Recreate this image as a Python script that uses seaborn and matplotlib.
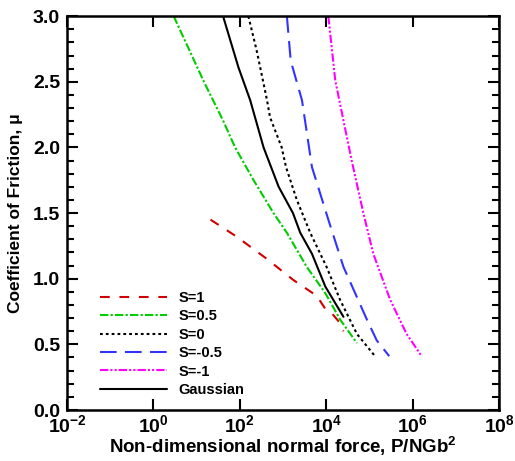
import numpy as np
import pandas as pd
import seaborn as sns
import matplotlib.pyplot as plt
from matplotlib.ticker import FixedLocator, MultipleLocator, FuncFormatter

# data (x = P/NGb^2, y = friction coefficient)
s1_x = [21, 85, 427, 1740, 6030, 9550, 13200, 20000, 25100]
s1_y = [1.45, 1.32, 1.15, 0.99, 0.87, 0.77, 0.74, 0.67, 0.60]

s05_x = [2.95, 14.8, 41.7, 78, 209, 603, 1230, 3550, 9550, 20900, 51300]
s05_y = [3.0, 2.5, 2.2, 2.0, 1.75, 1.5, 1.35, 1.09, 0.89, 0.69, 0.51]

s0_x = [158, 245, 427, 501, 933, 1175, 2090, 4270, 10200, 20900, 51300, 135000]
s0_y = [3.0, 2.74, 2.36, 2.23, 2.0, 1.85, 1.6, 1.35, 1.09, 0.84, 0.58, 0.41]

sm05_x = [1230, 1510, 2750, 4680, 11200, 25100, 87100, 148000, 288000]
sm05_y = [3.0, 2.66, 2.36, 1.85, 1.45, 1.09, 0.69, 0.53, 0.41]

sm1_x = [11200, 16200, 38900, 72400, 123000, 302000, 724000, 1620000]
sm1_y = [3.0, 2.51, 1.9, 1.5, 1.19, 0.84, 0.58, 0.41]

gauss_x = [41, 93, 174, 355, 794, 1700, 2510, 4680, 9550, 25100]
gauss_y = [3.0, 2.61, 2.36, 2.0, 1.7, 1.5, 1.35, 1.19, 0.94, 0.71]

labels = ['S=1', 'S=0.5', 'S=0', 'S=-0.5', 'S=-1', 'Gaussian']
xs = [s1_x, s05_x, s0_x, sm05_x, sm1_x, gauss_x]
ys = [s1_y, s05_y, s0_y, sm05_y, sm1_y, gauss_y]

colors = ['#d00000', '#00cc00', '#000000', '#3333ff', '#ff00ff', '#000000']
styles = [(0, (7, 7)),
          (0, (6, 1.6, 1.6, 1.6)),
          (0, (2, 2.2)),
          (0, (12, 6)),
          (0, (6, 1.5, 1.5, 1.5, 1.5, 1.5)),
          '-']

sns.set_style('ticks')
plt.rcParams['font.family'] = ['Liberation Sans', 'DejaVu Sans']
plt.rcParams['font.weight'] = 'bold'
plt.rcParams['mathtext.fontset'] = 'custom'
plt.rcParams['mathtext.bf'] = 'Liberation Sans:bold'
plt.rcParams['mathtext.rm'] = 'Liberation Sans:bold'
plt.rcParams['lines.scale_dashes'] = False
for k in ['text.color', 'axes.labelcolor', 'axes.edgecolor',
          'xtick.color', 'ytick.color']:
    plt.rcParams[k] = 'black'

fig = plt.figure(figsize=(5.15, 4.61), dpi=100)
ax = fig.add_axes([0.130, 0.1106, 0.839, 0.8544])

for lab, x, y, c, ls in zip(labels, xs, ys, colors, styles):
    df = pd.DataFrame({'x': x, 'y': y})
    sns.lineplot(data=df, x='x', y='y', ax=ax, color=c, linestyle=ls,
                 linewidth=1.5, sort=False, estimator=None, label=lab)

ax.set_xscale('log')
ax.set_xlim(1e-2, 1e8)
ax.set_ylim(0, 3.0)
ax.xaxis.set_major_locator(FixedLocator([1e-2, 1e0, 1e2, 1e4, 1e6, 1e8]))
ax.xaxis.set_minor_locator(FixedLocator([]))
ax.xaxis.set_major_formatter(FuncFormatter(
    lambda v, p: r'$\mathbf{10^{%d}}$' % int(round(np.log10(v)))))
ax.yaxis.set_major_locator(MultipleLocator(0.5))
ax.yaxis.set_minor_locator(MultipleLocator(0.1))
ax.yaxis.set_major_formatter(FuncFormatter(lambda v, p: '%.1f' % v))

ax.tick_params(which='both', direction='in', top=True, right=True,
               width=1.5, labelsize=14)
ax.tick_params(axis='x', pad=3)
ax.tick_params(axis='y', pad=5)
ax.tick_params(which='major', length=8)
ax.tick_params(which='minor', length=5)
for lbl in ax.get_yticklabels():
    lbl.set_fontweight('bold')
for sp in ax.spines.values():
    sp.set_linewidth(1.8)

ax.set_xlabel(r'Non-dimensional normal force, P/NGb$^\mathbf{2}$',
              fontsize=13.5, fontweight='bold', labelpad=-1)
ax.set_ylabel('Coefficient of Friction, μ', fontsize=12.5,
              fontweight='bold', labelpad=7)

leg = ax.legend(loc='lower left', bbox_to_anchor=(0.045, 0.0), frameon=False,
                fontsize=10.5, handlelength=4.6, handletextpad=0.8,
                labelspacing=0.3)
for t in leg.get_texts():
    t.set_fontweight('bold')

fig.savefig('out.png', dpi=100)
